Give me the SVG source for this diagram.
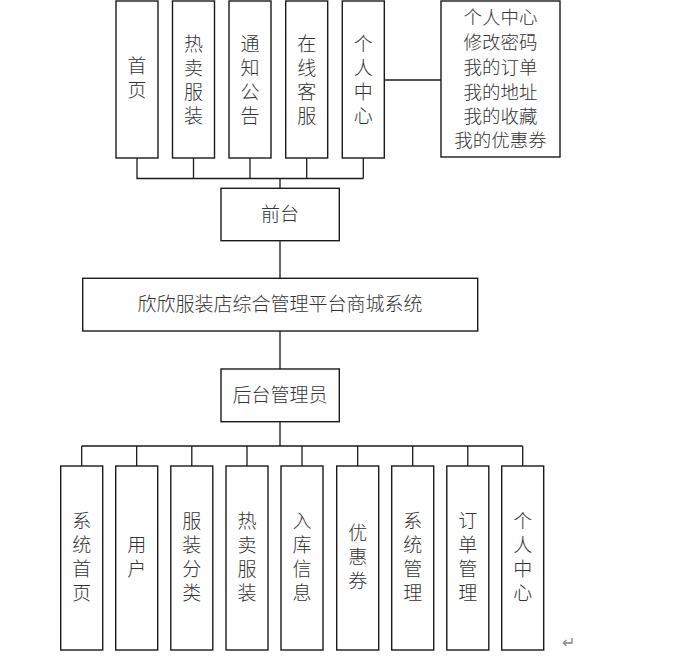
<svg xmlns="http://www.w3.org/2000/svg" width="675" height="656" viewBox="0 0 675 656">
<style>
.box{fill:#fff;stroke:#1a1a1a;stroke-width:1.4}
.ln{fill:none;stroke:#1a1a1a;stroke-width:1.3}
text{font-family:"Liberation Sans","Noto Sans CJK SC",sans-serif;font-size:19px;fill:#333;text-anchor:middle;dominant-baseline:central;font-weight:300}
.m{font-size:18.5px}
</style>
<rect width="675" height="656" fill="#fff"/>
<g id="connectors">
<path class="ln" d="M137 158V178.5H363.3M193.5 158V178.5M250 158V178.5M306.7 158V178.5M363.3 158V178.5M280 178.5V188.3"/>
<path class="ln" d="M384.3 80H441"/>
<path class="ln" d="M280 240.7V278.3M280 331V369M280 421.7V446"/>
<path class="ln" d="M81.7 446H522.7M81.7 446V466M136.7 446V466M191.8 446V466M247 446V466M302 446V466M357.7 446V466M412.7 446V466M467.8 446V466M522.7 446V466"/>
</g>
<g id="n-home"><rect class="box" x="116" y="1" width="42" height="157"/><text x="137" y="66">首</text><text x="137" y="90">页</text></g>
<g id="n-hot"><rect class="box" x="172.5" y="1" width="42" height="157"/><text x="193.5" y="44">热</text><text x="193.5" y="68">卖</text><text x="193.5" y="92">服</text><text x="193.5" y="116">装</text></g>
<g id="n-notice"><rect class="box" x="229" y="1" width="42" height="157"/><text x="250" y="44">通</text><text x="250" y="68">知</text><text x="250" y="92">公</text><text x="250" y="116">告</text></g>
<g id="n-service"><rect class="box" x="285.7" y="1" width="42" height="157"/><text x="306.7" y="44">在</text><text x="306.7" y="68">线</text><text x="306.7" y="92">客</text><text x="306.7" y="116">服</text></g>
<g id="n-personal"><rect class="box" x="342.3" y="1" width="42" height="157"/><text x="363.3" y="44">个</text><text x="363.3" y="68">人</text><text x="363.3" y="92">中</text><text x="363.3" y="116">心</text></g>
<g id="n-personal-detail"><rect class="box" x="441" y="1" width="119" height="156"/>
<text class="m" x="500.5" y="17">个人中心</text><text class="m" x="500.5" y="42">修改密码</text><text class="m" x="500.5" y="67">我的订单</text><text class="m" x="500.5" y="92">我的地址</text><text class="m" x="500.5" y="116">我的收藏</text><text class="m" x="500.5" y="140">我的优惠券</text></g>
<g id="n-front"><rect class="box" x="221" y="188.3" width="118.3" height="52.4"/><text x="280" y="214">前台</text></g>
<g id="n-system"><rect class="box" x="82.7" y="278.3" width="395" height="52.7"/><text x="280" y="304.5">欣欣服装店综合管理平台商城系统</text></g>
<g id="n-admin"><rect class="box" x="221" y="369" width="118.3" height="52.7"/><text x="280" y="395">后台管理员</text></g>
<g id="b-home"><rect class="box" x="60.7" y="466" width="42" height="184"/><text x="81.7" y="521">系</text><text x="81.7" y="545">统</text><text x="81.7" y="569">首</text><text x="81.7" y="593">页</text></g>
<g id="b-user"><rect class="box" x="115.7" y="466" width="42" height="184"/><text x="136.7" y="545">用</text><text x="136.7" y="569">户</text></g>
<g id="b-category"><rect class="box" x="170.8" y="466" width="42" height="184"/><text x="191.8" y="521">服</text><text x="191.8" y="545">装</text><text x="191.8" y="569">分</text><text x="191.8" y="593">类</text></g>
<g id="b-hot"><rect class="box" x="226" y="466" width="42" height="184"/><text x="247" y="521">热</text><text x="247" y="545">卖</text><text x="247" y="569">服</text><text x="247" y="593">装</text></g>
<g id="b-stock"><rect class="box" x="281" y="466" width="42" height="184"/><text x="302" y="521">入</text><text x="302" y="545">库</text><text x="302" y="569">信</text><text x="302" y="593">息</text></g>
<g id="b-coupon"><rect class="box" x="336.7" y="466" width="42" height="184"/><text x="357.7" y="533">优</text><text x="357.7" y="557">惠</text><text x="357.7" y="581">券</text></g>
<g id="b-sysmgr"><rect class="box" x="391.7" y="466" width="42" height="184"/><text x="412.7" y="521">系</text><text x="412.7" y="545">统</text><text x="412.7" y="569">管</text><text x="412.7" y="593">理</text></g>
<g id="b-order"><rect class="box" x="446.8" y="466" width="42" height="184"/><text x="467.8" y="521">订</text><text x="467.8" y="545">单</text><text x="467.8" y="569">管</text><text x="467.8" y="593">理</text></g>
<g id="b-personal"><rect class="box" x="501.7" y="466" width="42" height="184"/><text x="522.7" y="521">个</text><text x="522.7" y="545">人</text><text x="522.7" y="569">中</text><text x="522.7" y="593">心</text></g>
<text x="568" y="642" style="font-size:16px;fill:#888;font-family:'DejaVu Sans',sans-serif">↵</text>
</svg>
